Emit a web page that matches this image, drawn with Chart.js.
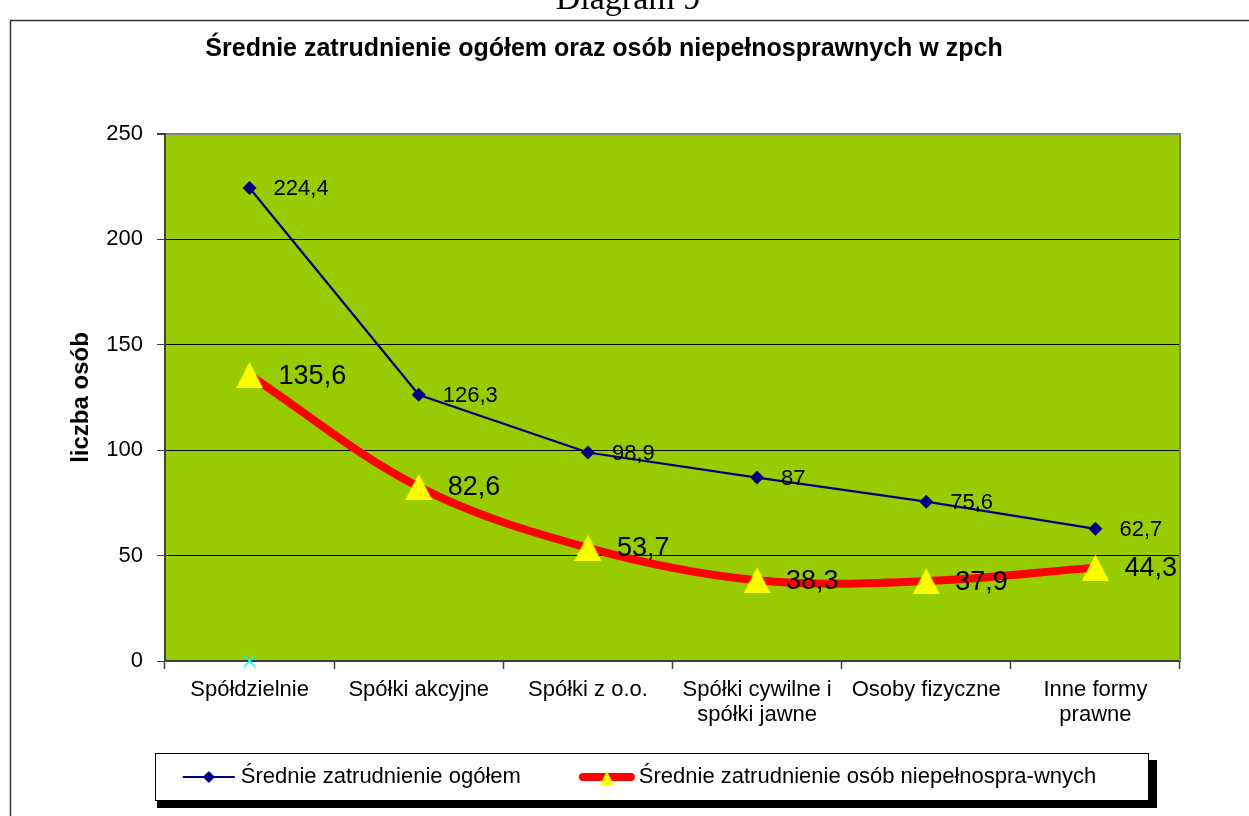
<!DOCTYPE html>
<html>
<head>
<meta charset="utf-8">
<script src="https://cdn.jsdelivr.net/npm/chart.js@4.4.1/dist/chart.umd.min.js"></script>
<style>
html,body{margin:0;padding:0;background:#fff;}
canvas{display:block;}
</style>
</head>
<body>
<canvas id="c" width="1249" height="816"></canvas>
<script>
const categories = ['Spółdzielnie', 'Spółki akcyjne', 'Spółki z o.o.', ['Spółki cywilne i', 'spółki jawne'], 'Osoby fizyczne', ['Inne formy', 'prawne']];
const seriesNames = ['Średnie zatrudnienie ogółem', 'Średnie zatrudnienie osób niepełnospra-wnych', ''];
const totalValues = [224.4, 126.3, 98.9, 87, 75.6, 62.7];
const disabledValues = [135.6, 82.6, 53.7, 38.3, 37.9, 44.3];
const extraValues = [0, null, null, null, null, null];
const yTicks = [0, 50, 100, 150, 200, 250];
const chartTitle = 'Średnie zatrudnienie ogółem oraz osób niepełnosprawnych w zpch';
const yAxisTitle = 'liczba osób';
const pageHeading = 'Diagram 9';

const FONT = '"Liberation Sans", Arial, sans-serif';
Chart.defaults.font.family = FONT;
Chart.defaults.color = '#000';

function makeCanvas(w, h, draw) {
  const c = document.createElement('canvas');
  c.width = w; c.height = h;
  draw(c.getContext('2d'), w, h);
  return c;
}
const triangleImg = makeCanvas(27, 26, (ctx, w, h) => {
  ctx.fillStyle = '#FFFF00';
  ctx.beginPath(); ctx.moveTo(w / 2, 0); ctx.lineTo(w, h); ctx.lineTo(0, h); ctx.closePath(); ctx.fill();
});
const legendImgTotal = makeCanvas(56, 16, (ctx, w, h) => {
  ctx.strokeStyle = '#000080'; ctx.lineWidth = 2;
  ctx.beginPath(); ctx.moveTo(2, 8); ctx.lineTo(54, 8); ctx.stroke();
  ctx.fillStyle = '#000080';
  ctx.beginPath(); ctx.moveTo(28, 2); ctx.lineTo(34, 8); ctx.lineTo(28, 14); ctx.lineTo(22, 8); ctx.closePath(); ctx.fill();
});
const legendImgDisabled = makeCanvas(64, 26, (ctx, w, h) => {
  ctx.strokeStyle = '#FF0000'; ctx.lineWidth = 8; ctx.lineCap = 'round';
  ctx.beginPath(); ctx.moveTo(8, 13); ctx.lineTo(56, 13); ctx.stroke();
  ctx.fillStyle = '#FFFF00';
  ctx.beginPath(); ctx.moveTo(32, 7); ctx.lineTo(39, 21); ctx.lineTo(25, 21); ctx.closePath(); ctx.fill();
});
const legendImgs = [legendImgTotal, legendImgDisabled];

const decorPlugin = {
  id: 'decor',
  beforeDraw(chart) {
    const ctx = chart.ctx, a = chart.chartArea;
    ctx.save();
    ctx.fillStyle = '#fff';
    ctx.fillRect(0, 0, chart.width, chart.height);
    // page heading (cut at top)
    ctx.fillStyle = '#000';
    ctx.font = '34px "Liberation Serif", "Times New Roman", serif';
    ctx.textAlign = 'center'; ctx.textBaseline = 'alphabetic';
    ctx.fillText(pageHeading, 628, 9);
    // outer frame
    ctx.strokeStyle = '#333'; ctx.lineWidth = 1.5;
    ctx.beginPath(); ctx.moveTo(10.5, chart.height + 2); ctx.lineTo(10.5, 20.5); ctx.lineTo(chart.width + 2, 20.5); ctx.stroke();
    // plot area
    ctx.fillStyle = '#99CC00';
    ctx.fillRect(a.left, a.top, a.right - a.left, a.bottom - a.top);
    // legend frame with shadow
    ctx.fillStyle = '#000';
    ctx.fillRect(157, 760, 1000, 48);
    ctx.fillStyle = '#fff';
    ctx.fillRect(155, 753, 993, 47);
    ctx.strokeStyle = '#000'; ctx.lineWidth = 1;
    ctx.strokeRect(155.5, 753.5, 993, 47);
    ctx.restore();
  },
  beforeDatasetsDraw(chart) {
    const ctx = chart.ctx, a = chart.chartArea;
    ctx.save();
    ctx.strokeStyle = '#808080'; ctx.lineWidth = 2;
    ctx.beginPath(); ctx.moveTo(a.right, a.top - 1); ctx.lineTo(a.right, a.bottom); ctx.stroke();
    ctx.restore();
  },
  afterLayout(chart) {
    const lg = chart.legend;
    if (lg) { lg.left += 38; lg.right += 38; lg.top -= 26; lg.bottom -= 26; }
  }
};

const labelStyles = [{size: 22, dx: 24, dy: 1}, {size: 27, dx: 29, dy: 1}];
const dataLabelPlugin = {
  id: 'dataLabels',
  afterDatasetsDraw(chart) {
    const ctx = chart.ctx;
    ctx.save();
    ctx.fillStyle = '#000'; ctx.textAlign = 'left'; ctx.textBaseline = 'middle';
    labelStyles.forEach((st, di) => {
      const meta = chart.getDatasetMeta(di);
      ctx.font = st.size + 'px ' + FONT;
      meta.data.forEach((pt, i) => {
        const v = chart.data.datasets[di].data[i];
        if (v == null) return;
        ctx.fillText(String(v).replace('.', ','), pt.x + st.dx, pt.y + st.dy);
      });
    });
    ctx.restore();
  }
};

new Chart(document.getElementById('c'), {
  type: 'line',
  data: {
    labels: categories,
    datasets: [
      {
        label: seriesNames[0], data: totalValues,
        borderColor: '#000080', borderWidth: 2.2, tension: 0,
        pointStyle: 'rectRot', pointRadius: 7, pointBackgroundColor: '#000080', pointBorderWidth: 0,
        clip: false, order: 1
      },
      {
        label: seriesNames[1], data: disabledValues,
        borderColor: '#FF0000', borderWidth: 8, tension: 0.35,
        borderCapStyle: 'round', borderJoinStyle: 'round',
        pointStyle: triangleImg, pointRadius: 13,
        clip: false, order: 2
      },
      {
        label: seriesNames[2], data: extraValues, showLine: false,
        pointStyle: 'crossRot', pointRadius: 8, borderColor: '#00FFFF', pointBorderColor: '#00FFFF', pointBorderWidth: 1.5,
        clip: false, order: 0
      }
    ]
  },
  options: {
    responsive: false,
    animation: false,
    events: [],
    layout: { padding: { left: 28, right: 69, top: 0, bottom: 0 } },
    plugins: {
      tooltip: { enabled: false },
      title: {
        display: true, text: chartTitle, color: '#000',
        font: { size: 25, weight: 'bold', family: FONT },
        padding: { top: 34, bottom: 70 }
      },
      legend: {
        display: true, position: 'bottom', maxHeight: 89,
        labels: {
          usePointStyle: true, pointStyleWidth: 42, boxHeight: 22, padding: 65,
          color: '#000', font: { size: 22, family: FONT },
          generateLabels(chart) {
            const items = Chart.defaults.plugins.legend.labels.generateLabels(chart);
            return items.filter(it => it.datasetIndex < 2).map(it => { it.pointStyle = legendImgs[it.datasetIndex]; return it; });
          }
        }
      }
    },
    scales: {
      x: {
        offset: true,
        afterFit(scale) { scale.height = 66; },
        grid: { offset: true, drawOnChartArea: false, tickLength: 8, tickColor: '#404040', tickWidth: 1.5 },
        border: { display: true, color: '#404040', width: 2 },
        ticks: { autoSkip: false, maxRotation: 0, minRotation: 0, padding: 8, color: '#000', font: { size: 22, lineHeight: 1.15 } }
      },
      y: {
        min: yTicks[0], max: yTicks[yTicks.length - 1],
        afterBuildTicks(scale) { scale.ticks = yTicks.map(v => ({ value: v })); },
        afterFit(scale) { scale.width = 137; },
        grid: {
          color: c => c.tick.value === yTicks[yTicks.length - 1] ? '#808080' : (c.tick.value === yTicks[0] ? 'rgba(0,0,0,0)' : '#000'),
          lineWidth: c => c.tick.value === yTicks[yTicks.length - 1] ? 2 : 1,
          tickColor: '#404040', tickLength: 8
        },
        border: { display: true, color: '#404040', width: 2 },
        ticks: { padding: 14, color: '#000', font: { size: 22 } },
        title: { display: true, text: yAxisTitle, color: '#000', font: { size: 24, weight: 'bold', family: FONT }, padding: { top: 39, bottom: 0 } }
      }
    }
  },
  plugins: [decorPlugin, dataLabelPlugin]
});
</script>
</body>
</html>
